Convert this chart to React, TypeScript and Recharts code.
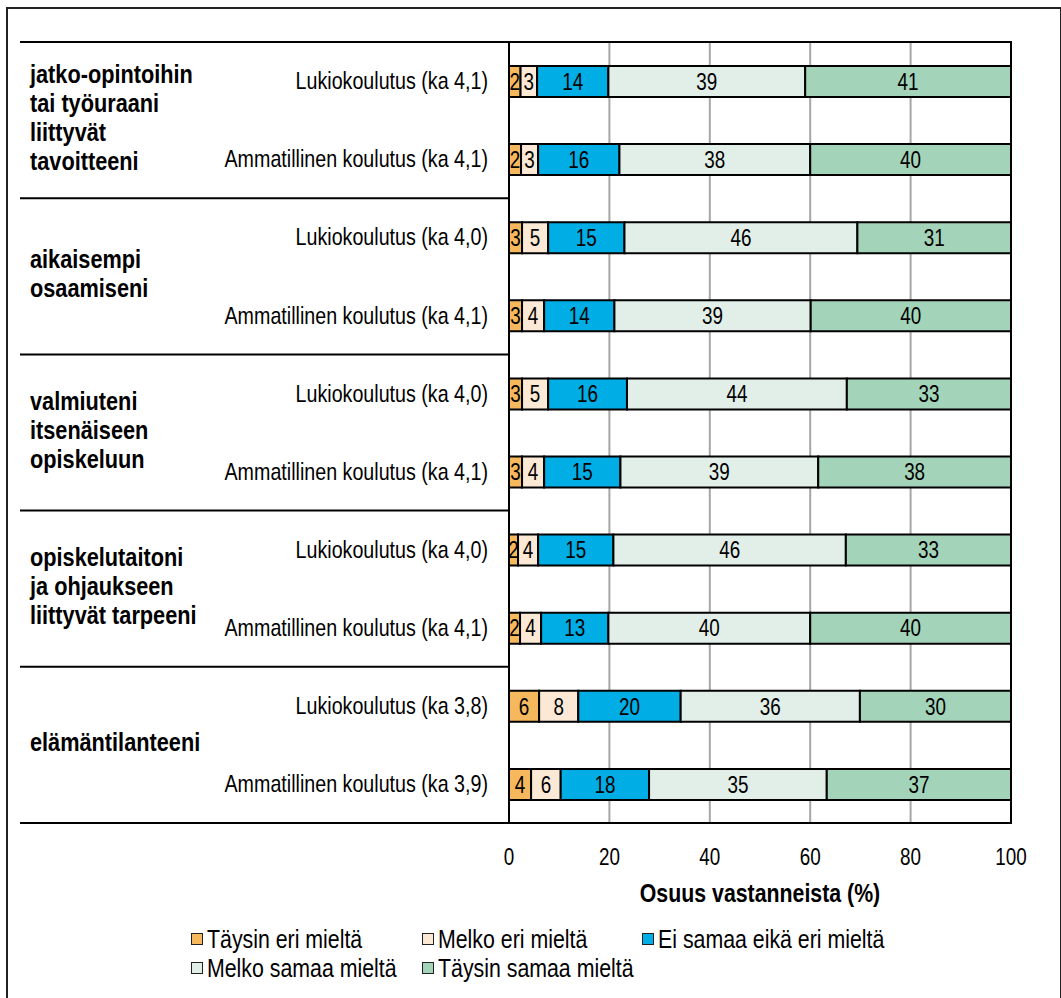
import { Bar, BarChart, CartesianGrid, LabelList, ReferenceArea, XAxis, YAxis } from 'recharts';

const rowLabels = [
  'Lukiokoulutus (ka 4,1)',
  'Ammatillinen koulutus (ka 4,1)',
  'Lukiokoulutus (ka 4,0)',
  'Ammatillinen koulutus (ka 4,1)',
  'Lukiokoulutus (ka 4,0)',
  'Ammatillinen koulutus (ka 4,1)',
  'Lukiokoulutus (ka 4,0)',
  'Ammatillinen koulutus (ka 4,1)',
  'Lukiokoulutus (ka 3,8)',
  'Ammatillinen koulutus (ka 3,9)',
];

const groupLabels = [
  ['jatko-opintoihin', 'tai työuraani', 'liittyvät', 'tavoitteeni'],
  ['aikaisempi', 'osaamiseni'],
  ['valmiuteni', 'itsenäiseen', 'opiskeluun'],
  ['opiskelutaitoni', 'ja ohjaukseen', 'liittyvät tarpeeni'],
  ['elämäntilanteeni'],
];

const taysinEri = [2.3, 2.4, 2.6, 2.6, 2.6, 2.6, 1.8, 2.2, 6.0, 4.4];
const melkoEri = [3.3, 3.4, 5.2, 4.4, 5.2, 4.4, 4.0, 4.2, 7.8, 5.9];
const eiSamaa = [14.2, 16.2, 15.2, 14.0, 15.7, 15.2, 15.0, 13.4, 20.4, 17.6];
const melkoSamaa = [39.2, 38.0, 46.4, 39.1, 43.8, 39.4, 46.3, 40.2, 35.7, 35.4];
const taysinSamaa = [41.0, 40.0, 30.6, 39.9, 32.7, 38.4, 32.9, 40.0, 30.1, 36.7];

const xTicks = [0, 20, 40, 60, 80, 100];

const seriesInfo = [
  { key: 'taysinEri', name: 'Täysin eri mieltä', color: '#F5B85C' },
  { key: 'melkoEri', name: 'Melko eri mieltä', color: '#FBE9D6' },
  { key: 'eiSamaa', name: 'Ei samaa eikä eri mieltä', color: '#00ADE4' },
  { key: 'melkoSamaa', name: 'Melko samaa mieltä', color: '#E2EEE8' },
  { key: 'taysinSamaa', name: 'Täysin samaa mieltä', color: '#A3D3B8' },
];

const data = rowLabels.map((label, i) => ({
  id: `r${i}`,
  label,
  taysinEri: taysinEri[i],
  melkoEri: melkoEri[i],
  eiSamaa: eiSamaa[i],
  melkoSamaa: melkoSamaa[i],
  taysinSamaa: taysinSamaa[i],
}));

// Arial Narrow look: regular Liberation Sans squeezed sideways
const font = "'Liberation Sans', Arial, sans-serif";
const squeeze = 0.82;
const chartW = 1061;
const chartH = 998;
const plotTop = 42;
const plotBottom = 823;
const band = (plotBottom - plotTop) / rowLabels.length;

function NText({ x, y, anchor = 'start', size = 24, weight = 'normal', children }: any) {
  return (
    <text
      transform={`translate(${x} ${y}) scale(${squeeze} 1)`}
      x={0}
      y={0}
      textAnchor={anchor}
      dominantBaseline="central"
      fontSize={size}
      fontWeight={weight}
      fontFamily={font}
      fill="#000"
    >
      {children}
    </text>
  );
}

function RowTick(props: any) {
  const { x, y, payload } = props;
  const index = data.findIndex((d) => d.id === payload.value);
  const groupIndex = Math.floor(index / 2);
  const isFirst = index % 2 === 0;
  const lines = groupLabels[groupIndex] ?? [];
  const center = y + band / 2;
  const lineH = 29;
  return (
    <g>
      <NText x={x} y={y} anchor="end" size={24}>
        {rowLabels[index]}
      </NText>
      {isFirst && (
        <>
          <line x1={20} x2={509} y1={y - band / 2} y2={y - band / 2} stroke="#000" strokeWidth={2} />
          {lines.map((line, k) => (
            <NText key={line} x={30} y={center - 3 + (k - (lines.length - 1) / 2) * lineH} size={26.5} weight="bold">
              {line}
            </NText>
          ))}
        </>
      )}
      {index === data.length - 1 && (
        <line x1={20} x2={509} y1={y + band / 2} y2={y + band / 2} stroke="#000" strokeWidth={2} />
      )}
    </g>
  );
}

function XTick(props: any) {
  const { x, payload } = props;
  return (
    <NText x={x} y={plotBottom + 34} anchor="middle" size={23}>
      {payload.value}
    </NText>
  );
}

function BarValue(props: any) {
  const { x, y, width, height, value } = props;
  return (
    <NText x={x + width / 2} y={y + height / 2} anchor="middle" size={23}>
      {Math.round(Number(value))}
    </NText>
  );
}

function AxisTitle(props: any) {
  const { viewBox } = props;
  return (
    <NText x={viewBox.x + viewBox.width / 2} y={plotBottom + 70} anchor="middle" size={26} weight="bold">
      Osuus vastanneista (%)
    </NText>
  );
}

function LegendBox() {
  return (
    <div
      style={{
        position: 'absolute',
        left: 191,
        top: 925,
        width: 720,
        display: 'grid',
        gridTemplateColumns: '231px 220px auto',
        rowGap: 1,
        fontFamily: font,
        fontSize: 26,
        color: '#000',
      }}
    >
      {seriesInfo.map((s) => (
        <div key={s.key} style={{ display: 'flex', alignItems: 'center', gap: 4, lineHeight: '28px', whiteSpace: 'nowrap' }}>
          <span
            style={{
              width: 10,
              height: 10,
              flexShrink: 0,
              background: s.color,
              border: '1.5px solid #222',
              display: 'inline-block',
            }}
          />
          <span style={{ display: 'inline-block', transform: `scaleX(${squeeze})`, transformOrigin: 'left center' }}>
            {s.name}
          </span>
        </div>
      ))}
    </div>
  );
}

export default function App() {
  return (
    <div style={{ position: 'fixed', left: 0, top: 0, width: chartW, height: chartH, overflow: 'hidden', background: '#fff' }}>
      <div
        style={{
          position: 'absolute',
          left: 6,
          top: 7,
          width: 1052,
          height: 1000,
          border: '2px solid #222',
        }}
      />
      <div style={{ position: 'absolute', left: 0, top: 0 }}>
        <BarChart
          width={chartW}
          height={chartH}
          data={data}
          layout="vertical"
          margin={{ top: plotTop, right: 50, bottom: 105, left: 0 }}
          barSize={31}
        >
          <CartesianGrid horizontal={false} stroke="#A6A6A6" strokeWidth={2} />
          <XAxis
            type="number"
            domain={[0, 100]}
            ticks={xTicks}
            height={70}
            axisLine={{ stroke: '#000', strokeWidth: 2 }}
            tickLine={false}
            tick={<XTick />}
            label={<AxisTitle />}
          />
          <YAxis
            type="category"
            dataKey="id"
            width={509}
            axisLine={{ stroke: '#000', strokeWidth: 2 }}
            tickLine={false}
            tickSize={0}
            tickMargin={21}
            tick={<RowTick />}
            interval={0}
          />
          {seriesInfo.map((s) => (
            <Bar
              key={s.key}
              dataKey={s.key}
              name={s.name}
              stackId="a"
              fill={s.color}
              stroke="#000"
              strokeWidth={2}
              isAnimationActive={false}
            >
              <LabelList dataKey={s.key} content={<BarValue />} />
            </Bar>
          ))}
          <ReferenceArea x1={0} x2={100} fill="none" stroke="#000" strokeWidth={2} ifOverflow="visible" />
        </BarChart>
      </div>
      <LegendBox />
    </div>
  );
}
